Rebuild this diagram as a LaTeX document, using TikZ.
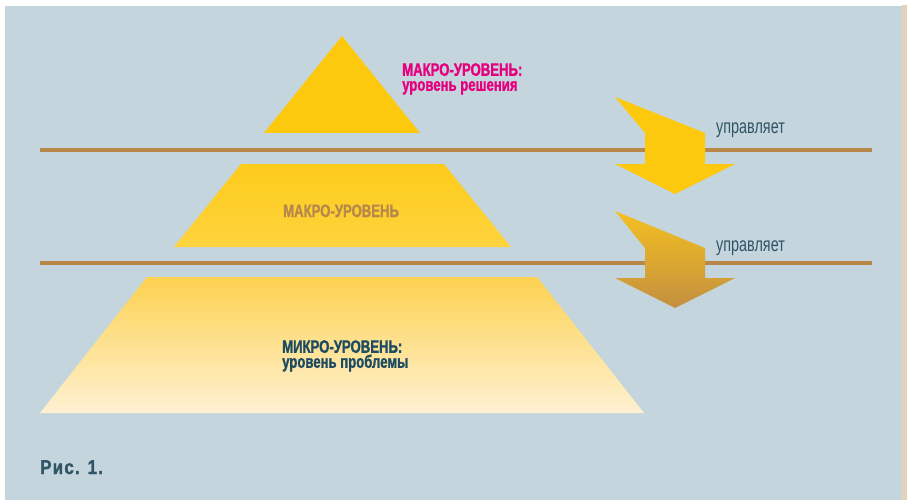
\documentclass[tikz,border=0pt]{standalone}
\usepackage{fontspec}
\setmainfont{Liberation Sans}
\newfontfamily\condB[FakeStretch=0.73,BoldFeatures={FakeBold=1.2}]{Liberation Sans}
\newfontfamily\condR[FakeStretch=0.72]{Liberation Sans}
\newfontfamily\capfont[FakeStretch=0.85,LetterSpace=6,BoldFeatures={FakeBold=1.2}]{Liberation Sans}
\definecolor{bgc}{HTML}{C5D5DD}
\definecolor{strip}{HTML}{E5D3B8}
\definecolor{linec}{HTML}{B8884A}
\definecolor{yel}{HTML}{FDC90F}
\definecolor{magc}{HTML}{E6007E}
\definecolor{brownt}{HTML}{B5894A}
\definecolor{darkt}{HTML}{1D4B62}
\definecolor{tealt}{HTML}{2F5566}
\tikzset{
  x=1pt, y=-1pt,
  sep/.style={draw=linec, line width=4pt},
  boldlbl/.style={inner sep=0pt, anchor=north west, align=left, font={\condB\bfseries\fontsize{18}{15}\selectfont}},
  arrlbl/.style={inner sep=0pt, anchor=base west, text=tealt, font={\condR\fontsize{20}{20}\selectfont}},
}
\begin{document}
\begin{tikzpicture}
\useasboundingbox (0,0) rectangle (907,500);
\fill[white] (0,0) rectangle (907,500);
\fill[bgc] (5,6) rectangle (902,500);
\fill[strip] (902,5) rectangle (907,500);
% separator lines
\coordinate (l1a) at (40,150); \coordinate (l1b) at (872,150);
\coordinate (l2a) at (40,263); \coordinate (l2b) at (872,263);
\draw[sep] (l1a) -- (l1b);
\draw[sep] (l2a) -- (l2b);
% pyramid
\fill[yel] (342,36) -- (420,133) -- (264,133) -- cycle;
\shade[top color=yel!95!white, bottom color={rgb,255:red,254;green,211;blue,62}]
  (241,164) -- (444,164) -- (511,247) -- (174,247) -- cycle;
\shade[top color={rgb,255:red,253;green,210;blue,80}, bottom color={rgb,255:red,254;green,241;blue,211}]
  (147,277) -- (537,277) -- (644,413) -- (40,413) -- cycle;
% arrows
\fill[yel] (615,97) -- (705,133) -- (705,164) -- (735,164) -- (675,194) -- (615,164) -- (645,164) -- (645,133) -- cycle;
\shade[top color={rgb,255:red,244;green,192;blue,32}, bottom color={rgb,255:red,196;green,144;blue,64}]
  (615,211) -- (705,248) -- (705,278) -- (735,278) -- (675,308) -- (615,278) -- (645,278) -- (645,248) -- cycle;
% texts
\node[boldlbl, text=magc] (mac) at (402,63) {МАКРО-УРОВЕНЬ:\\уровень решения};
\node[boldlbl, anchor=base west, text=brownt] (mid) at (283,217) {МАКРО-УРОВЕНЬ};
\node[boldlbl, text=darkt] (mic) at (282,340) {МИКРО-УРОВЕНЬ:\\уровень проблемы};
\node[arrlbl] (u1) at (716,133) {управляет};
\node[arrlbl] (u2) at (716,251) {управляет};
\node[inner sep=0pt, anchor=base west, text=tealt, font={\capfont\bfseries\fontsize{20}{20}\selectfont}] (fig) at (40,474) {Рис. 1.};
\end{tikzpicture}
\end{document}
